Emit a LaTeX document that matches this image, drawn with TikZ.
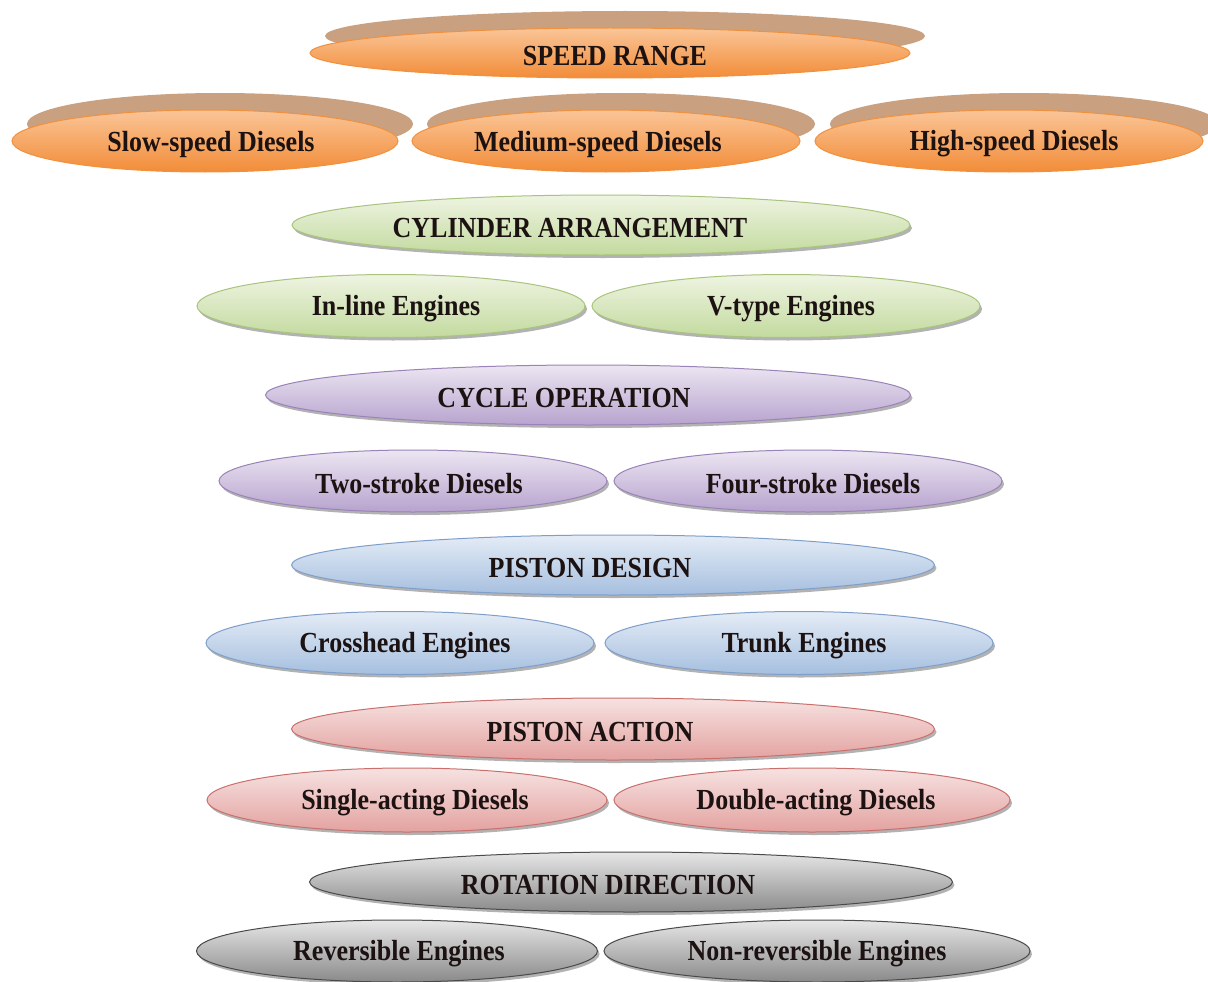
\documentclass[tikz,border=0pt]{standalone}
\usepackage{fontspec}
\usepackage{graphicx}
\setmainfont{Liberation Serif}
\usetikzlibrary{shapes.geometric,shadows}
\definecolor{orTop}{HTML}{FAC597}
\definecolor{orBot}{HTML}{F28C38}
\definecolor{orLine}{HTML}{F0913F}
\definecolor{brownSh}{HTML}{C9A080}
\definecolor{grTop}{HTML}{EEF4E2}
\definecolor{grBot}{HTML}{C3DA9E}
\definecolor{grLine}{HTML}{A9C47C}
\definecolor{puTop}{HTML}{ECE6F2}
\definecolor{puBot}{HTML}{B7A3CE}
\definecolor{puLine}{HTML}{9A83B8}
\definecolor{blTop}{HTML}{E4ECF6}
\definecolor{blBot}{HTML}{A6BFDF}
\definecolor{blLine}{HTML}{7F9FCB}
\definecolor{reTop}{HTML}{F6E2E1}
\definecolor{reBot}{HTML}{E3A2A0}
\definecolor{reLine}{HTML}{C9706D}
\definecolor{gyTop}{HTML}{E6E6E6}
\definecolor{gyBot}{HTML}{8A8A8A}
\definecolor{gyLine}{HTML}{4A4A4A}
\definecolor{txtCol}{HTML}{1C1212}
% #1 = horizontal shift of the text (pt), #2 = text
\newcommand\ovaltext[2]{\hspace*{\dimexpr 0pt+#1pt\relax}\raisebox{-3pt}[\height][\depth]{\scalebox{1}[1.12]{#2}}\hspace*{\dimexpr 0pt-#1pt\relax}}
\tikzset{
  oval/.style={ellipse, inner sep=0pt, line width=1pt,
    font=\fontsize{26}{30}\selectfont\bfseries, text=txtCol},
  softsh/.style={drop shadow={shadow xshift=2pt, shadow yshift=-3pt, opacity=0.3, fill=black}},
  orangeoval/.style={oval, draw=orLine, top color=orTop, bottom color=orBot,
    general shadow={fill=brownSh, shadow xshift=15pt, shadow yshift=17pt}},
  greenoval/.style={oval, softsh, draw=grLine, top color=grTop, bottom color=grBot},
  purpleoval/.style={oval, softsh, draw=puLine, top color=puTop, bottom color=puBot},
  blueoval/.style={oval, softsh, draw=blLine, top color=blTop, bottom color=blBot},
  redoval/.style={oval, softsh, draw=reLine, top color=reTop, bottom color=reBot},
  grayoval/.style={oval, softsh, draw=gyLine, top color=gyTop, bottom color=gyBot},
}
\begin{document}
\begin{tikzpicture}[x=1pt,y=-1pt]
\useasboundingbox[fill=white] (0,0) rectangle (1208,982);
% speed range
\node[orangeoval, minimum width=600pt, minimum height=50pt] (speed) at (610,53) {\ovaltext{5}{SPEED RANGE}};
\node[orangeoval, minimum width=386pt, minimum height=62pt] (slow) at (205,141) {\ovaltext{6}{Slow-speed Diesels}};
\node[orangeoval, minimum width=388pt, minimum height=62pt] (medium) at (606,141) {\ovaltext{-8}{Medium-speed Diesels}};
\node[orangeoval, minimum width=388pt, minimum height=62pt] (high) at (1009,141) {\ovaltext{5}{High-speed Diesels}};
% cylinder arrangement
\node[greenoval, minimum width=618pt, minimum height=60pt] (cyl) at (601,225) {\ovaltext{-31}{CYLINDER ARRANGEMENT}};
\node[greenoval, minimum width=388pt, minimum height=63pt] (inline) at (391,306) {\ovaltext{5}{In-line Engines}};
\node[greenoval, minimum width=388pt, minimum height=63pt] (vtype) at (786,306) {\ovaltext{5}{V-type Engines}};
% cycle operation
\node[purpleoval, minimum width=645pt, minimum height=60pt] (cycle) at (588,395) {\ovaltext{-24}{CYCLE OPERATION}};
\node[purpleoval, minimum width=388pt, minimum height=62pt] (two) at (413,481) {\ovaltext{6}{Two-stroke Diesels}};
\node[purpleoval, minimum width=388pt, minimum height=62pt] (four) at (808,481) {\ovaltext{5}{Four-stroke Diesels}};
% piston design
\node[blueoval, minimum width=643pt, minimum height=60pt] (design) at (613,565) {\ovaltext{-23}{PISTON DESIGN}};
\node[blueoval, minimum width=388pt, minimum height=63pt] (cross) at (400,643) {\ovaltext{5}{Crosshead Engines}};
\node[blueoval, minimum width=388pt, minimum height=63pt] (trunk) at (799,643) {\ovaltext{5}{Trunk Engines}};
% piston action
\node[redoval, minimum width=643pt, minimum height=62pt] (action) at (613,729) {\ovaltext{-23}{PISTON ACTION}};
\node[redoval, minimum width=400pt, minimum height=64pt] (single) at (407,800) {\ovaltext{8}{Single-acting Diesels}};
\node[redoval, minimum width=396pt, minimum height=64pt] (double) at (812,800) {\ovaltext{4}{Double-acting Diesels}};
% rotation direction
\node[grayoval, minimum width=643pt, minimum height=60pt] (rot) at (631,882) {\ovaltext{-23}{ROTATION DIRECTION}};
\node[grayoval, minimum width=401pt, minimum height=62pt] (rev) at (397,951) {\ovaltext{2}{Reversible Engines}};
\node[grayoval, minimum width=426pt, minimum height=62pt] (nonrev) at (817,951) {\ovaltext{0}{Non-reversible Engines}};
\end{tikzpicture}
\end{document}
